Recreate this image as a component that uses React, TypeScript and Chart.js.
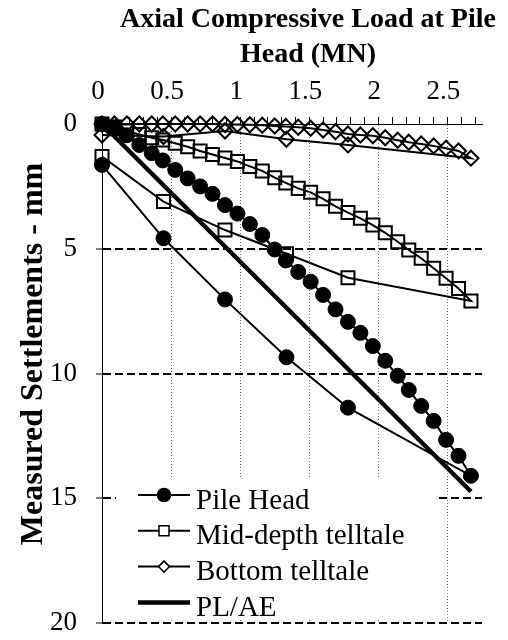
import { useEffect, useRef } from "react";
import { Chart, registerables } from "chart.js";

Chart.register(...registerables);

const SERIF = '"Liberation Serif", "Times New Roman", serif';

// Load steps of the main loading sequence (MN)
const loadSteps = [
  0, 0.09, 0.18, 0.27, 0.36, 0.44, 0.53, 0.62, 0.71, 0.8, 0.89, 0.98, 1.07, 1.16, 1.25, 1.33,
  1.42, 1.51, 1.6, 1.69, 1.78, 1.87, 1.96, 2.05, 2.14, 2.22, 2.31, 2.4, 2.49, 2.58, 2.67,
];
// Settlements measured at each load step (mm)
const headSettlement = [
  0, 0.15, 0.45, 0.84, 1.17, 1.46, 1.84, 2.18, 2.5, 2.8, 3.25, 3.59, 4.01, 4.45, 5.03, 5.47,
  5.93, 6.32, 6.85, 7.43, 7.93, 8.37, 8.9, 9.49, 10.09, 10.66, 11.3, 11.9, 12.66, 13.3, 14.1,
];
const midSettlement = [
  0, 0.12, 0.28, 0.42, 0.55, 0.64, 0.77, 0.91, 1.08, 1.22, 1.36, 1.5, 1.7, 1.88, 2.15, 2.36,
  2.58, 2.74, 3.0, 3.3, 3.55, 3.78, 4.05, 4.36, 4.72, 5.05, 5.38, 5.78, 6.18, 6.59, 7.09,
];
const bottomSettlement = [
  0, 0, 0, 0, 0, 0, 0, 0, 0, 0, 0.02, 0.02, 0.03, 0.05, 0.08, 0.1,
  0.13, 0.17, 0.24, 0.31, 0.4, 0.44, 0.47, 0.55, 0.65, 0.73, 0.8, 0.88, 0.97, 1.08, 1.37,
];

// Coarse load cycle readings (MN / mm)
const cycleLoads = [0, 0.445, 0.89, 1.335, 1.78, 2.67];
const headCycle = [1.64, 4.58, 7.03, 9.35, 11.37, 14.1];
const midCycle = [1.3, 3.11, 4.25, 5.2, 6.16, 7.09];
const bottomCycle = [0.44, 0.5, 0.28, 0.61, 0.84, 1.37];

// Elastic shortening PL/AE
const elasticLoads = [0, 2.67];
const elasticSettlement = [0, 14.73];

const seriesNames = ["Pile Head", "Mid-depth telltale", "Bottom telltale", "PL/AE"];
const xTitleLines = ["Axial Compressive Load at Pile", "Head (MN)"];
const yTitle = "Measured Settlements - mm";

type Pt = { x: number; y: number };

// loading curve followed by the coarse cycle traced back to zero load
function trace(loads: number[], settle: number[], back: number[], backSettle: number[]): Pt[] {
  const pts: Pt[] = loads.map((x, i) => ({ x, y: settle[i] }));
  for (let i = back.length - 2; i >= 0; i--) pts.push({ x: back[i], y: backSettle[i] });
  return pts;
}

function marker(ctx: CanvasRenderingContext2D, style: string, x: number, y: number, r: number, fill: boolean) {
  ctx.beginPath();
  if (style === "circle") {
    ctx.arc(x, y, r, 0, Math.PI * 2);
  } else if (style === "rect") {
    ctx.rect(x - r, y - r, 2 * r, 2 * r);
  } else if (style === "rectRot") {
    ctx.moveTo(x, y - r);
    ctx.lineTo(x + r, y);
    ctx.lineTo(x, y + r);
    ctx.lineTo(x - r, y);
    ctx.closePath();
  } else {
    return;
  }
  if (fill) ctx.fill();
  ctx.stroke();
}

const legendPlugin = {
  id: "boxedLegend",
  afterDraw(chart: any) {
    const { ctx, chartArea } = chart;
    const left = chartArea.left + 14;
    const top = chartArea.top + 353;
    ctx.save();
    ctx.fillStyle = "#ffffff";
    ctx.fillRect(left, top, 320, 143);
    chart.data.datasets.forEach((ds: any, i: number) => {
      const y = top + 18 + i * 35.8;
      ctx.setLineDash([]);
      ctx.strokeStyle = "#000";
      ctx.lineWidth = ds.borderWidth;
      ctx.beginPath();
      ctx.moveTo(left + 22, y);
      ctx.lineTo(left + 74, y);
      ctx.stroke();
      ctx.lineWidth = 1.5;
      ctx.fillStyle = "#000";
      const sizes: Record<string, number> = { circle: 6.5, rect: 5, rectRot: 5.5 };
      if (ds.pointRadius > 0) {
        if (ds.pointStyle !== "circle") {
          ctx.fillStyle = "#fff";
        }
        marker(ctx, ds.pointStyle, left + 48, y, sizes[ds.pointStyle], true);
      }
      ctx.fillStyle = "#000";
      ctx.font = `29px ${SERIF}`;
      ctx.textBaseline = "alphabetic";
      ctx.textAlign = "left";
      ctx.fillText(ds.label, left + 80, y + 13.5);
    });
    ctx.restore();
  },
};

const titlePlugin = {
  id: "axisTitles",
  afterDraw(chart: any) {
    const { ctx } = chart;
    ctx.save();
    ctx.fillStyle = "#000";
    ctx.font = `bold 28px ${SERIF}`;
    ctx.textAlign = "center";
    ctx.textBaseline = "alphabetic";
    xTitleLines.forEach((line, i) => ctx.fillText(line, 308, 27 + i * 34.5));
    ctx.translate(42, 354);
    ctx.rotate(-Math.PI / 2);
    ctx.font = `bold 32px ${SERIF}`;
    ctx.fillText(yTitle, 0, 0);
    ctx.restore();
  },
};

export default function App() {
  const canvasRef = useRef<HTMLCanvasElement | null>(null);

  useEffect(() => {
    const canvas = canvasRef.current;
    if (!canvas) return;
    const chart = new Chart(canvas, {
      type: "scatter",
      data: {
        datasets: [
          {
            label: seriesNames[0],
            data: trace(loadSteps, headSettlement, cycleLoads, headCycle),
            showLine: true,
            borderColor: "#000",
            borderWidth: 2,
            pointStyle: "circle",
            pointRadius: 7.5,
            pointBackgroundColor: "#000",
            pointBorderColor: "#000",
            pointBorderWidth: 1,
            clip: false,
          },
          {
            label: seriesNames[1],
            data: trace(loadSteps, midSettlement, cycleLoads, midCycle),
            showLine: true,
            borderColor: "#000",
            borderWidth: 2,
            pointStyle: "rect",
            pointRadius: 9.2,
            pointBackgroundColor: "rgba(0,0,0,0)",
            pointBorderColor: "#000",
            pointBorderWidth: 2,
            clip: false,
          },
          {
            label: seriesNames[2],
            data: trace(loadSteps, bottomSettlement, cycleLoads, bottomCycle),
            showLine: true,
            borderColor: "#000",
            borderWidth: 2,
            pointStyle: "rectRot",
            pointRadius: 7.5,
            pointBackgroundColor: "rgba(0,0,0,0)",
            pointBorderColor: "#000",
            pointBorderWidth: 2,
            clip: false,
          },
          {
            label: seriesNames[3],
            data: elasticLoads.map((x, i) => ({ x, y: elasticSettlement[i] })),
            showLine: true,
            borderColor: "#000",
            borderWidth: 4.5,
            pointRadius: 0,
            pointStyle: "line",
            clip: false,
          },
        ],
      },
      options: {
        responsive: false,
        animation: false,
        layout: { padding: { left: 0, top: 0, right: 26, bottom: 17 } },
        plugins: { legend: { display: false }, tooltip: { enabled: false } },
        scales: {
          x: {
            type: "linear",
            position: "top",
            min: 0,
            max: 2.75,
            afterFit: (s: any) => {
              s.height = 124;
              s.paddingLeft = 0;
              s.paddingRight = 0;
            },
            ticks: {
              stepSize: 0.1,
              includeBounds: false,
              autoSkip: false,
              maxRotation: 0,
              padding: 9,
              labelOffset: -4,
              color: "#000",
              font: { family: SERIF, size: 27 },
              callback: (v: any) => {
                const n = Number(v);
                return Math.abs(n * 2 - Math.round(n * 2)) < 1e-6 ? String(Math.round(n * 10) / 10) : "";
              },
            },
            grid: {
              color: (c: any) => {
                const v = c.tick ? c.tick.value : 0;
                return v > 0.01 && Math.abs(v * 2 - Math.round(v * 2)) < 1e-6 ? "#6e6e6e" : "rgba(0,0,0,0)";
              },
              lineWidth: 1,
              tickLength: 7,
              tickColor: "#000",
              tickWidth: 1,
            },
            border: { display: true, color: "#000", width: 1, dash: [1, 2] },
          },
          y: {
            type: "linear",
            reverse: true,
            min: 0,
            max: 20,
            afterFit: (s: any) => {
              s.width = 102;
              s.paddingTop = 0;
              s.paddingBottom = 0;
            },
            ticks: {
              stepSize: 5,
              padding: 19,
              color: "#000",
              font: { family: SERIF, size: 27, lineHeight: 1 },
            },
            grid: {
              color: (c: any) => (c.tick && c.tick.value > 0 ? "#000" : "rgba(0,0,0,0)"),
              lineWidth: 2,
              tickLength: 6,
              tickColor: "#000",
              tickWidth: 1,
            },
            border: { display: true, color: "#000", width: 1, dash: [8, 4] },
          },
        },
      },
      plugins: [legendPlugin, titlePlugin],
    });
    return () => chart.destroy();
  }, []);

  return (
    <div style={{ position: "absolute", left: 0, top: 0, width: 508, height: 640, background: "#fff" }}>
      <canvas ref={canvasRef} width={508} height={640} style={{ display: "block" }} />
    </div>
  );
}
